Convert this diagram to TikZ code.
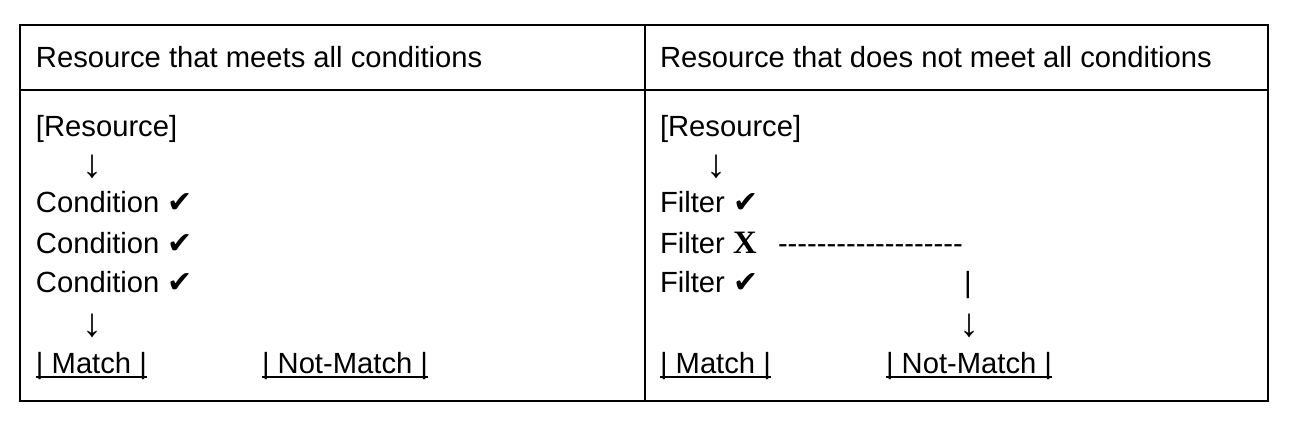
\documentclass[tikz,border=0pt]{standalone}
\usepackage{fontspec}
\setmainfont{Liberation Sans}
\newfontfamily\symfont{DejaVu Sans}
\newfontfamily\xfont{Liberation Serif}
\newcommand\chk{{\symfont\fontsize{22.5pt}{24pt}\selectfont ✔}}
\newcommand\crossX{{\xfont\bfseries\fontsize{24.5pt}{26pt}\selectfont X}}
\begin{document}
\begin{tikzpicture}[x=0.75pt,y=-0.75pt,
  every node/.style={inner sep=0pt,outer sep=0pt,anchor=base west,
    font=\fontsize{21.9pt}{24pt}\selectfont},
  arr/.style={anchor=center,font=\fontsize{30pt}{32pt}\selectfont},
  tableline/.style={line width=1.9pt},
  ulline/.style={line width=1.3pt}]
\useasboundingbox (0,0) rectangle (1290,424);
% table
\draw[tableline] (20,25) rectangle (1268,401);
\draw[tableline] (20,90) -- (1268,90);
\draw[tableline] (645,25) -- (645,401);
% headers
\node (h1) at (36,68) {Resource that meets all conditions};
\node (h2) at (660,68) {Resource that does not meet all conditions};
% left column
\node (r1) at (36,137) {[Resource]};
\node[arr] (a1) at (92,166.5) {↓};
\node (c1) at (36,213) {Condition \chk};
\node (c2) at (36,253) {Condition \chk};
\node (c3) at (36,293) {Condition \chk};
\node[arr] (a2) at (92,326) {↓};
\node (m1) at (36,373.3) {| Match |};
\node (n1) at (262,373.3) {| Not-Match |};
\draw[ulline] ([yshift=-2.8pt]m1.base west) -- ([yshift=-2.8pt]m1.base east);
\draw[ulline] ([yshift=-2.8pt]n1.base west) -- ([yshift=-2.8pt]n1.base east);
% right column
\node (r2) at (660,137) {[Resource]};
\node[arr] (a3) at (716,166.5) {↓};
\node (f1) at (660,213) {Filter \chk};
\node (f2) at (660,253) {Filter \crossX};
\node (d) at (778,253) {-{}-{}-{}-{}-{}-{}-{}-{}-{}-{}-{}-{}-{}-{}-{}-{}-{}-{}-};
\node (f3) at (660,293) {Filter \chk};
\node[anchor=base] (bar) at (968,293) {|};
\node[arr] (a4) at (969,326) {↓};
\node (m2) at (660,373.3) {| Match |};
\node (n2) at (886,373.3) {| Not-Match |};
\draw[ulline] ([yshift=-2.8pt]m2.base west) -- ([yshift=-2.8pt]m2.base east);
\draw[ulline] ([yshift=-2.8pt]n2.base west) -- ([yshift=-2.8pt]n2.base east);
\end{tikzpicture}
\end{document}
